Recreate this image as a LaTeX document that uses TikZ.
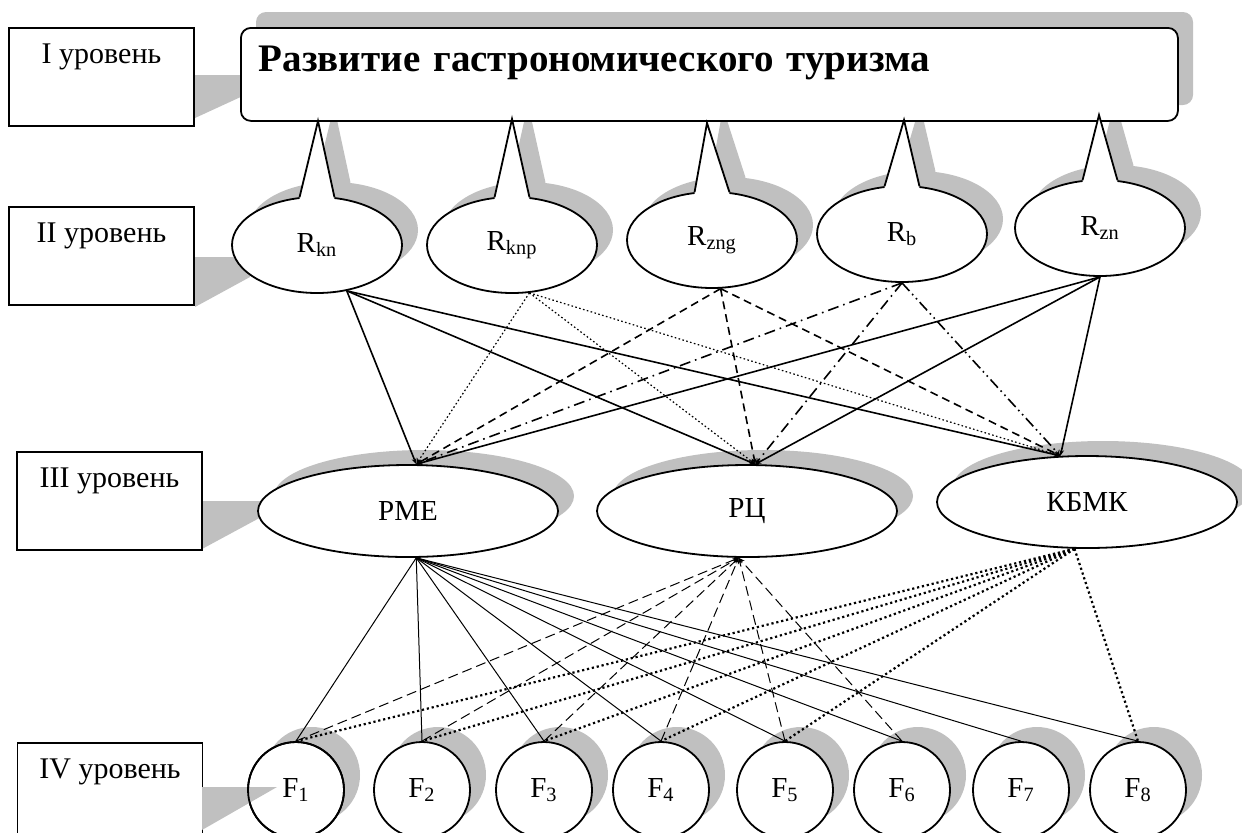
\documentclass[tikz,border=0pt]{standalone}
\usepackage{fontspec}
\setmainfont{Liberation Serif}
\usetikzlibrary{arrows.meta,shapes.geometric}
\definecolor{shadowgray}{RGB}{192,192,192}
\pgfdeclarelayer{background}
\pgfsetlayers{background,main}

\begin{document}
\begin{tikzpicture}[x=0.5pt,y=-0.5pt,>={Stealth[length=3pt,width=2.4pt]},
    font=\fontsize{14.5}{17}\selectfont,
    level box/.style={draw,line width=0.8pt,fill=white,minimum width=92.5pt,
      text height=9.5pt,text depth=22.5pt,inner ysep=8.5pt,anchor=north,
      font=\fontsize{15}{18}\selectfont},
    goal box/.style={draw,line width=0.9pt,fill=white,rounded corners=5pt,
      minimum width=468.5pt,text width=450.5pt,align=left,inner xsep=9pt,
      text height=14pt,text depth=17pt,inner ysep=7.75pt,
      anchor=north west,font=\fontsize{19.5}{24}\selectfont\bfseries},
    r node/.style={ellipse,draw,line width=0.9pt,fill=white,minimum width=85pt,
      minimum height=48pt,inner sep=0pt},
    mid node/.style={ellipse,draw,line width=0.9pt,fill=white,minimum width=150pt,
      minimum height=46pt,inner sep=0pt},
    f node/.style={circle,draw,line width=0.9pt,fill=white,minimum size=48pt,inner sep=0pt},
    r edge/.style={->,line width=0.8pt},
    f edge/.style={line width=0.5pt}]

  \useasboundingbox (0,0) rectangle (1242,832);

  % levels
  \node[level box] (lev1) at (101.5,27) {I уровень};
  \node[level box] (lev2) at (101.5,206) {II уровень};
  \node[level box] (lev3) at (109.5,451) {III уровень};

  % goal
  \node[goal box] (goal) at (240,27) {Развитие гастрономического туризма};

  % second level
  \node[r node] (rkn) at (317,245) {R\textsubscript{kn}};
  \node[r node] (rknp) at (512,245) {R\textsubscript{knp}};
  \node[r node] (rzng) at (712,240) {R\textsubscript{zng}};
  \node[r node] (rb) at (902,234) {R\textsubscript{b}};
  \node[r node] (rzn) at (1100,228) {R\textsubscript{zn}};

  % third level
  \node[mid node] (pme) at (408,511) {РМЕ};
  \node[mid node] (rc) at (747,511) {РЦ};
  \node[mid node] (kbmk) at (1087,502) {КБМК};

  % fourth level
  \foreach \i/\x in {1/296,2/422,3/544,4/661,5/785,6/902,7/1021,8/1138}
    \node[f node] (f\i) at (\x,790) {F\textsubscript{\i}};
  \node[level box] (lev4) at (110,742) {IV уровень};

  % callout pointers
  \foreach \n/\tx/\ty in {rkn/318/121,rknp/512/119,rzng/707/123,rb/904/120,rzn/1099/115}{
    \fill[white] ([yshift=-2pt]\n.110) -- (\n.110) -- (\tx,\ty) -- (\n.70) -- ([yshift=-2pt]\n.70) -- cycle;
    \draw[line width=0.9pt] (\n.110) -- (\tx,\ty) -- (\n.70);
  }

  % shadows
  \begin{pgfonlayer}{background}
    \fill[shadowgray,rounded corners=5pt] (256,12) rectangle (1193,105);
    \fill[shadowgray] (195,75) -- (245,75) -- (245,95) -- (195,118) -- cycle;
    \fill[shadowgray] (195,257) -- (250,257) -- (250,277) -- (195,307) -- cycle;
    \fill[shadowgray] (202,501) -- (265,501) -- (265,515) -- (202,549) -- cycle;
    \foreach \n/\tx/\ty in {rkn/318/121,rknp/512/119,rzng/707/123,rb/904/120,rzn/1099/115}{
      \fill[shadowgray] ([shift={(16,-15)}]\n.center) ellipse [x radius=85,y radius=48];
      \fill[shadowgray] ([shift={(16,-15)}]\n.110) -- ({\tx+16},{\ty-15})
        -- ([shift={(16,-15)}]\n.70) -- ([shift={(16,0)}]\n.center) -- cycle;
    }
    \foreach \n in {pme,rc,kbmk}
      \fill[shadowgray] ([shift={(16,-15)}]\n.center) ellipse [x radius=150,y radius=46];
    \foreach \i in {1,...,8}
      \fill[shadowgray] ([shift={(16,-15)}]f\i.center) circle [radius=48];
  \end{pgfonlayer}

  \fill[shadowgray] (202,787) -- (277,787) -- (202,830) -- cycle;
  \draw[line width=0.9pt] (f1.center) circle [radius=48];

  % second to third level
  \path[r edge]
    (rkn.-57) edge (pme.80)
              edge (rc.80)
              edge (kbmk.120)
    (rzn.south) edge (pme.80)
                edge (rc.80)
                edge (kbmk.120);
  \path[r edge,dash pattern=on 0.8pt off 1.2pt,line width=0.6pt]
    (rknp.-70) edge (pme.80)
               edge (rc.80)
               edge (kbmk.120);
  \path[r edge,dash pattern=on 4pt off 2.5pt]
    (rzng.-80) edge (pme.80)
               edge (rc.80)
               edge (kbmk.120);
  \path[r edge,dash pattern=on 5.5pt off 2.5pt on 0.8pt off 2.5pt]
    (rb.south) edge (pme.80)
               edge (rc.80)
               edge[dash pattern=on 5.5pt off 2pt on 0.8pt off 2pt on 0.8pt off 2pt] (kbmk.120);

  % third to fourth level
  \foreach \i in {1,...,8}
    \draw[f edge] (pme.-80) -- (f\i.north);
  \foreach \i in {1,...,6}
    \draw[f edge,->,dash pattern=on 5pt off 2.5pt] (f\i.north) -- (rc.-100);
  \foreach \i in {1,2,3,4,5,8}
    \draw[f edge,line width=1.1pt,dash pattern=on 1.1pt off 1.4pt] (kbmk.-105) -- (f\i.north);
\end{tikzpicture}
\end{document}
